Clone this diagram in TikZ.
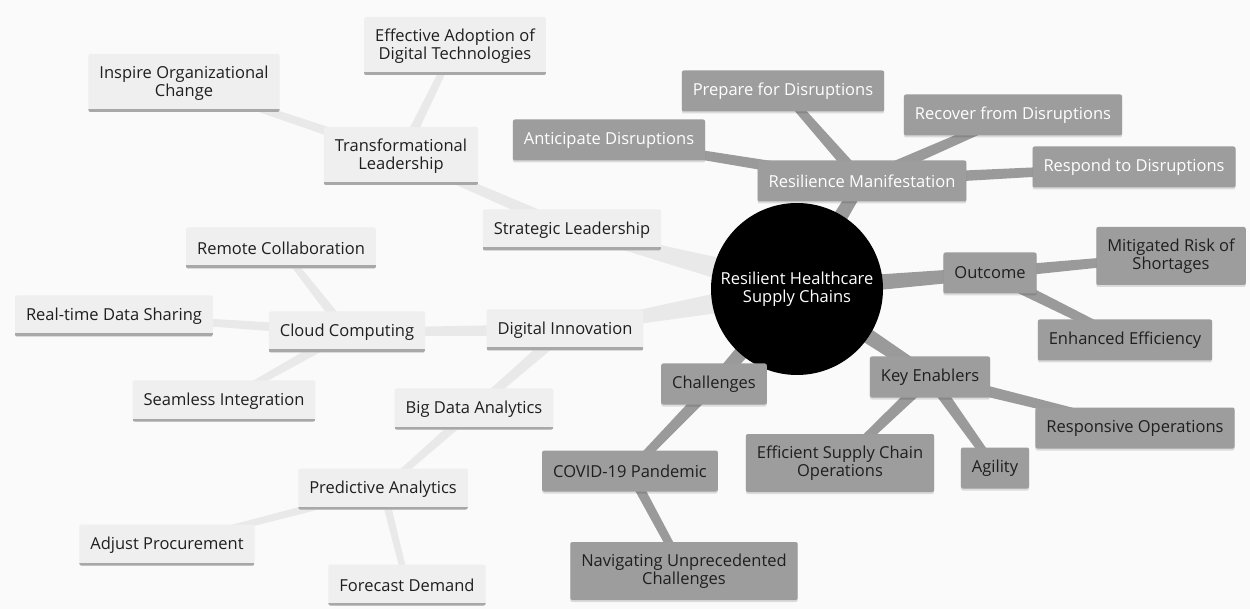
\documentclass[tikz,border=0pt]{standalone}
\usepackage{fontspec}
\setmainfont{Open Sans}
\usetikzlibrary{calc,shadows}

\definecolor{pagebg}{HTML}{FAFAFA}
\definecolor{paleFill}{HTML}{EFEFEF}
\definecolor{paleEdge}{HTML}{A8A8A8}
\definecolor{paleLink}{HTML}{E9E9E9}
\definecolor{greyFill}{HTML}{9D9D9D}
\definecolor{greyLink}{HTML}{9A9A9A}
\definecolor{inkDark}{HTML}{1F1F1F}

\pgfdeclarelayer{bg}
\pgfdeclarelayer{links}
\pgfsetlayers{bg,links,main}

% tapered connector: from, to, half-width at from, half-width at to, colour
\newcommand\taper[5]{%
  \fill[#5] ($(#1)!#3!90:(#2)$) -- ($(#1)!#3!-90:(#2)$)
         -- ($(#2)!#4!90:(#1)$) -- ($(#2)!#4!-90:(#1)$) -- cycle;}

\tikzset{
  box/.style={rectangle, rounded corners=2pt, align=center, inner xsep=11pt,
    inner ysep=3pt, minimum height=41pt, font=\fontsize{16.5}{18.5}\selectfont},
  pale/.style={box, fill=paleFill, text=inkDark,
    path picture={\draw[paleEdge, line width=6pt]
      (path picture bounding box.south west) -- (path picture bounding box.south east);}},
  grey/.style={box, fill=greyFill, text=inkDark,
    drop shadow={shadow xshift=0pt, shadow yshift=-2pt, fill=black, opacity=0.12}},
  greylight/.style={grey, text=white},
  tall/.style={minimum height=58pt},
  hub/.style={circle, fill=black, minimum size=172pt, inner sep=0pt, text=white,
    align=center, font=\fontsize{16.5}{18.5}\selectfont}
}

\begin{document}
\begin{tikzpicture}[x=1pt, y=-1pt]
\useasboundingbox (0,0) rectangle (1250,609);
\begin{pgfonlayer}{bg}
  \fill[pagebg] (0,0) rectangle (1250,609);
\end{pgfonlayer}

% central topic
\node[hub] (hub) at (797,289) {Resilient Healthcare\\Supply Chains};

% leadership and innovation branches
\node[pale] (strat) at (572,230) {Strategic Leadership};
\node[pale,tall] (trans) at (401,156) {Transformational\\Leadership};
\node[pale,tall] (adopt) at (455,46) {Effective Adoption of\\Digital Technologies};
\node[pale,tall] (inspire) at (184,83) {Inspire Organizational\\Change};
\node[pale] (digi) at (565,330) {Digital Innovation};
\node[pale] (cloud) at (347,332) {Cloud Computing};
\node[pale] (remote) at (281,248) {Remote Collaboration};
\node[pale] (realtime) at (114,316) {Real-time Data Sharing};
\node[pale] (seamless) at (224,401) {Seamless Integration};
\node[pale] (bigdata) at (474,409) {Big Data Analytics};
\node[pale] (predict) at (383,489) {Predictive Analytics};
\node[pale] (procure) at (167,545) {Adjust Procurement};
\node[pale] (forecast) at (407,585) {Forecast Demand};

% resilience, outcome, enablers, challenges
\node[greylight] (resil) at (862,181) {Resilience Manifestation};
\node[greylight] (anticip) at (609,140) {Anticipate Disruptions};
\node[greylight] (prepare) at (783,91) {Prepare for Disruptions};
\node[greylight] (recover) at (1013,115) {Recover from Disruptions};
\node[greylight] (respond) at (1134,167) {Respond to Disruptions};
\node[grey] (outcome) at (990,273) {Outcome};
\node[grey,tall] (mitig) at (1171,256) {Mitigated Risk of\\Shortages};
\node[grey] (effic) at (1125,340) {Enhanced Efficiency};
\node[grey] (enablers) at (930,377) {Key Enablers};
\node[grey] (respops) at (1135,428) {Responsive Operations};
\node[grey,tall] (supply) at (840,463) {Efficient Supply Chain\\Operations};
\node[grey] (agility) at (995,468) {Agility};
\node[grey] (challenges) at (714,384) {Challenges};
\node[grey] (covid) at (630,471) {COVID-19 Pandemic};
\node[grey,tall] (navig) at (684,571) {Navigating Unprecedented\\Challenges};

\begin{pgfonlayer}{links}
  % pale branches
  \taper{hub}{strat}{14pt}{4pt}{paleLink}
  \taper{hub}{digi}{13pt}{4pt}{paleLink}
  \taper{strat}{trans}{6pt}{4pt}{paleLink}
  \taper{trans}{inspire}{5pt}{3pt}{paleLink}
  \taper{trans}{adopt}{5pt}{3pt}{paleLink}
  \taper{digi}{cloud}{6pt}{4pt}{paleLink}
  \taper{digi}{bigdata}{6pt}{4pt}{paleLink}
  \taper{cloud}{remote}{5pt}{3pt}{paleLink}
  \taper{cloud}{realtime}{5pt}{3pt}{paleLink}
  \taper{cloud}{seamless}{5pt}{3pt}{paleLink}
  \taper{bigdata}{predict}{5pt}{3pt}{paleLink}
  \taper{predict}{procure}{4pt}{3pt}{paleLink}
  \taper{predict}{forecast}{4pt}{3pt}{paleLink}
  % grey branches
  \taper{hub}{resil}{9pt}{6pt}{greyLink}
  \taper{hub}{outcome}{9pt}{6pt}{greyLink}
  \taper{hub}{enablers}{9pt}{6pt}{greyLink}
  \taper{hub}{challenges}{9pt}{6pt}{greyLink}
  \taper{resil}{anticip}{6pt}{4pt}{greyLink}
  \taper{resil}{prepare}{6pt}{4pt}{greyLink}
  \taper{resil}{recover}{6pt}{4pt}{greyLink}
  \taper{resil}{respond}{6pt}{4pt}{greyLink}
  \taper{outcome}{mitig}{6pt}{4pt}{greyLink}
  \taper{outcome}{effic}{6pt}{4pt}{greyLink}
  \taper{enablers}{respops}{6pt}{4pt}{greyLink}
  \taper{enablers}{supply}{6pt}{4pt}{greyLink}
  \taper{enablers}{agility}{6pt}{4pt}{greyLink}
  \taper{challenges}{covid}{6pt}{4pt}{greyLink}
  \taper{covid}{navig}{5pt}{4pt}{greyLink}
\end{pgfonlayer}
\end{tikzpicture}
\end{document}
